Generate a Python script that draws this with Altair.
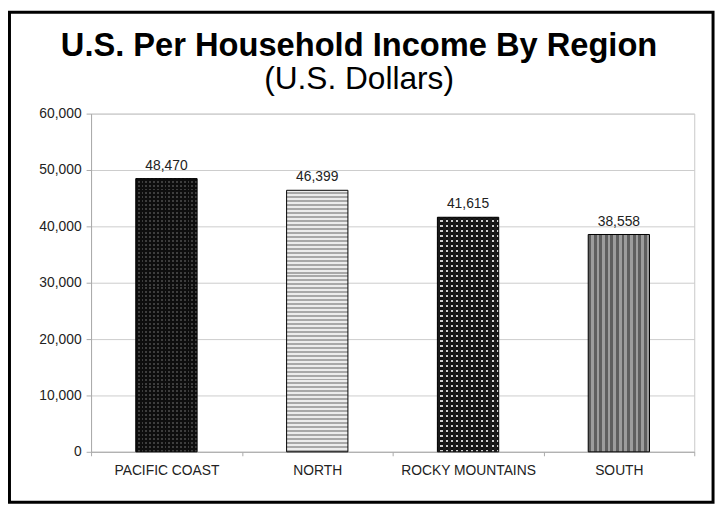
import altair as alt
import pandas as pd

regions = ["PACIFIC COAST", "NORTH", "ROCKY MOUNTAINS", "SOUTH"]
incomes = [48470, 46399, 41615, 38558]
y_ticks = [0, 10000, 20000, 30000, 40000, 50000, 60000]

title_text = "U.S. Per Household Income By Region"
subtitle_text = "(U.S. Dollars)"

df = pd.DataFrame({"region": regions, "income": incomes})

FONT = "Liberation Sans"
W, H = 610, 342
PAD_L, PAD_T, PAD_R, PAD_B = 84, 104, 23, 54


def stripes(c1, c2, n, vertical=False, frac=0.5):
    """Hard-edged stripe gradient: n periods, c1 portion = frac."""
    stops = []
    for i in range(n):
        a = i / n
        b = (i + frac) / n
        c = (i + 1) / n
        stops += [
            alt.GradientStop(offset=a, color=c1),
            alt.GradientStop(offset=b, color=c1),
            alt.GradientStop(offset=b, color=c2),
            alt.GradientStop(offset=c, color=c2),
        ]
    if vertical:
        return alt.LinearGradient(gradient="linear", stops=stops, x1=0, x2=1, y1=0, y2=0)
    return alt.LinearGradient(gradient="linear", stops=stops, x1=0, x2=0, y1=0, y2=1)


# fill layers per region (bottom to top); last gets the outline
fills = {
    "PACIFIC COAST": [
        stripes("#0e0e0e", "#3e3e3e", 69, frac=0.5),
        stripes("#0e0e0e", "rgba(0,0,0,0)", 16, vertical=True, frac=0.5),
    ],
    "NORTH": [
        stripes("#ececec", "#a8a8a8", 66, frac=0.5),
    ],
    "ROCKY MOUNTAINS": [
        stripes("#111111", "#d0d0d0", 47, frac=0.6),
        stripes("#1a1a1a", "rgba(0,0,0,0)", 12, vertical=True, frac=0.6),
    ],
    "SOUTH": [
        stripes("#5e5e5e", "#9c9c9c", 11, vertical=True, frac=0.5),
    ],
}

x_enc = alt.X(
    "region:N",
    sort=regions,
    scale=alt.Scale(paddingInner=0, paddingOuter=0),
    axis=alt.Axis(
        title=None,
        labelAngle=0,
        tickBand="extent",
        labelFont=FONT,
        labelFontSize=14,
        labelColor="#222222",
        labelPadding=8,
        tickSize=4,
        tickColor="#aaaaaa",
        domainColor="#aaaaaa",
        grid=False,
    ),
)
y_enc = alt.Y(
    "income:Q",
    scale=alt.Scale(domain=[0, 60000]),
    axis=alt.Axis(
        title=None,
        values=y_ticks,
        format=",.0f",
        labelFont=FONT,
        labelFontSize=14,
        labelColor="#222222",
        labelPadding=5,
        tickSize=5,
        tickColor="#aaaaaa",
        domainColor="#aaaaaa",
        gridColor="#cccccc",
    ),
)

base = alt.Chart(df)
layers = []
for r in regions:
    fl = fills[r]
    for i, g in enumerate(fl):
        last = i == len(fl) - 1
        kw = dict(size=62, fill=g)
        if last:
            kw.update(stroke="#000000", strokeWidth=1)
        layers.append(
            base.transform_filter(alt.datum.region == r)
            .mark_bar(**kw)
            .encode(x=x_enc, y=y_enc)
        )

text = base.mark_text(
    baseline="bottom", dy=-6, font=FONT, fontSize=14, color="#222222"
).encode(x=x_enc, y=y_enc, text=alt.Text("income:Q", format=","))

one = alt.Chart(pd.DataFrame({"k": [0]}))

border = one.mark_rect(
    fill="transparent", stroke="#000000", strokeWidth=3
).encode(
    x=alt.value(-PAD_L + 1.5),
    x2=alt.value(W + PAD_R - 4),
    y=alt.value(-PAD_T + 1.5),
    y2=alt.value(H + PAD_B - 3),
)

title_mark = one.mark_text(
    font=FONT, fontSize=33, fontWeight="bold", color="#000000",
    align="center", baseline="alphabetic",
).encode(x=alt.value(271), y=alt.value(-58), text=alt.value(title_text))

subtitle_mark = one.mark_text(
    font=FONT, fontSize=32, color="#000000",
    align="center", baseline="alphabetic",
).encode(x=alt.value(271), y=alt.value(-25), text=alt.value(subtitle_text))

chart = (
    alt.layer(*layers, text, border, title_mark, subtitle_mark)
    .properties(
        width=W,
        height=H,
        padding={"left": PAD_L, "top": PAD_T, "right": PAD_R, "bottom": PAD_B},
        autosize=alt.AutoSizeParams(type="none"),
        background="white",
    )
    .configure_view(stroke="#c8c8c8")
)

chart.save("out.html", embed_options={"renderer": "svg", "actions": False})
